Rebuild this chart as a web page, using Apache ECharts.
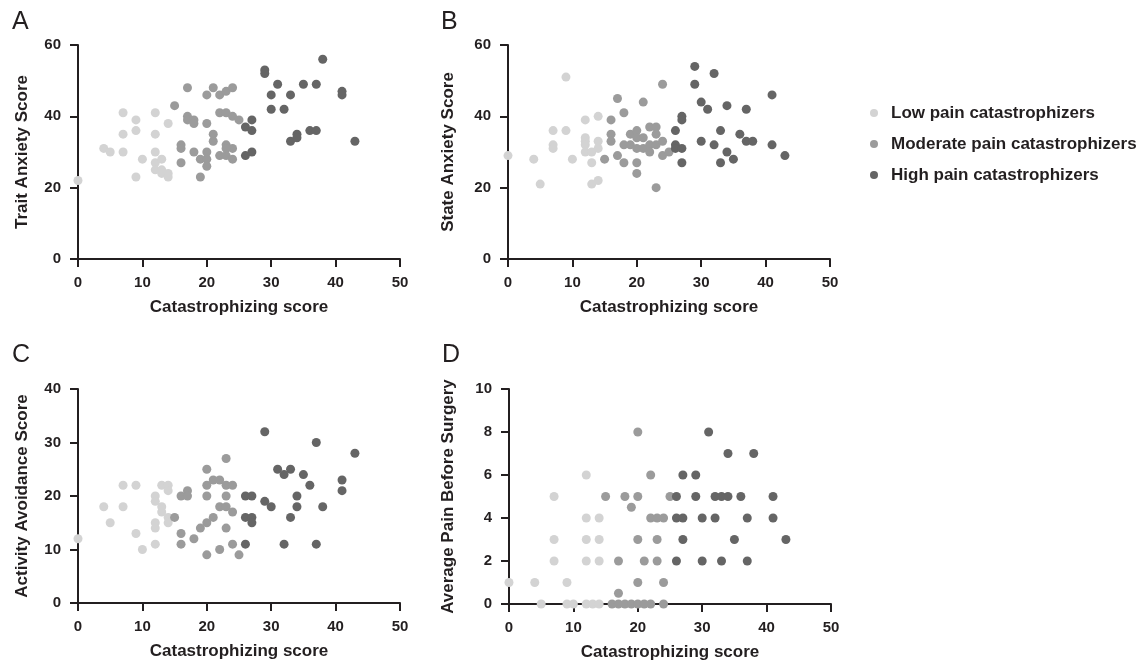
<!DOCTYPE html>
<html>
<head>
<meta charset="utf-8">
<script src="https://cdn.jsdelivr.net/npm/echarts@6/dist/echarts.min.js"></script>
<style>
html,body{margin:0;padding:0;background:#fff;}
#chart{width:1148px;height:663px;}
</style>
</head>
<body>
<div id="chart"></div>
<script>
// ---- Data ----
const groupNames = ['Low pain catastrophizers', 'Moderate pain catastrophizers', 'High pain catastrophizers'];
const xTicks = [0, 10, 20, 30, 40, 50];
const panelLetters = ['A', 'B', 'C', 'D'];
const yTitles = ['Trait Anxiety Score', 'State Anxiety Score', 'Activity Avoidance Score', 'Average Pain Before Surgery'];
const xTitle = 'Catastrophizing score';
const yMax = [60, 60, 40, 10];
const yStep = [20, 20, 10, 2];

// Panel A: Trait Anxiety
const traitLow = [[0,22],[4,31],[5,30],[7,41],[7,35],[7,30],[9,39],[9,36],[9,23],[10,28],[12,41],[12,35],[12,30],[12,27],[12,25],[13,28],[13,25],[13,24],[14,38],[14,24],[14,23]];
const traitMod = [[15,43],[17,48],[17,40],[17,39],[18,39],[18,38],[20,38],[21,48],[20,46],[22,46],[23,47],[24,48],[22,41],[23,41],[24,40],[25,39],[21,35],[21,33],[16,32],[16,31],[16,27],[18,30],[19,28],[20,30],[20,28],[20,26],[19,23],[22,29],[23,32],[23,29],[24,28],[24,31],[23,31]];
const traitHigh = [[26,37],[27,39],[27,36],[26,29],[27,30],[29,53],[29,52],[30,46],[30,42],[31,49],[32,42],[33,46],[33,33],[34,35],[34,34],[35,49],[36,36],[37,49],[37,36],[38,56],[41,47],[41,46],[43,33]];

// Panel B: State Anxiety
const stateLow = [[0,29],[4,28],[5,21],[7,36],[7,32],[7,31],[9,51],[9,36],[10,28],[12,39],[12,34],[12,33],[12,32],[12,30],[13,30],[13,27],[13,21],[14,40],[14,33],[14,31],[14,22]];
const stateMod = [[15,28],[16,39],[16,35],[16,33],[17,45],[17,29],[18,41],[18,32],[18,27],[19,35],[19,32],[20,36],[20,34],[20,31],[20,27],[20,24],[21,44],[21,34],[21,31],[22,37],[22,32],[22,30],[23,37],[23,35],[23,32],[23,20],[24,49],[24,33],[24,29],[25,30]];
const stateHigh = [[26,36],[26,32],[26,31],[27,40],[27,39],[27,31],[27,27],[29,54],[29,49],[30,44],[30,33],[31,42],[32,52],[32,32],[33,36],[33,27],[34,43],[34,30],[35,28],[36,35],[37,42],[37,33],[38,33],[41,46],[41,32],[43,29]];

// Panel C: Activity Avoidance
const avoidLow = [[0,12],[4,18],[5,15],[7,22],[7,18],[9,22],[9,13],[10,10],[12,20],[12,19],[12,15],[12,14],[12,11],[13,22],[13,18],[13,17],[14,22],[14,21],[14,16],[14,15]];
const avoidMod = [[15,16],[16,20],[16,13],[16,11],[17,21],[17,20],[18,12],[19,14],[20,25],[20,22],[20,20],[20,15],[20,9],[21,23],[21,16],[22,23],[22,18],[22,10],[23,27],[23,22],[23,20],[23,18],[23,14],[24,22],[24,17],[24,11],[25,9]];
const avoidHigh = [[26,20],[26,16],[26,11],[27,20],[27,16],[27,15],[29,32],[29,19],[30,18],[31,25],[32,24],[32,11],[33,25],[33,16],[34,20],[34,18],[35,24],[36,22],[37,30],[37,11],[38,18],[41,23],[41,21],[43,28]];

// Panel D: Average Pain Before Surgery
const painLow = [[0,1],[4,1],[5,0],[7,5],[7,3],[7,2],[9,1],[9,0],[10,0],[12,6],[12,4],[12,3],[12,2],[12,0],[13,0],[14,4],[14,3],[14,2],[14,0]];
const painMod = [[15,5],[16,0],[17,2],[17,0.5],[17,0],[18,5],[18,0],[19,4.5],[19,0],[20,8],[20,5],[20,3],[20,1],[20,0],[21,2],[21,0],[22,6],[22,4],[22,0],[23,4],[23,3],[23,2],[24,4],[24,1],[24,0],[25,5]];
const painHigh = [[26,5],[26,4],[26,2],[27,6],[27,4],[27,3],[29,6],[29,5],[30,4],[30,2],[31,8],[32,5],[32,4],[33,5],[33,2],[34,7],[34,5],[35,3],[36,5],[37,4],[37,2],[38,7],[41,5],[41,4],[43,3]];

const panels = [
  [traitLow, traitMod, traitHigh],
  [stateLow, stateMod, stateHigh],
  [avoidLow, avoidMod, avoidHigh],
  [painLow, painMod, painHigh]
];

// ---- Styles / layout ----
const colors = ['#d3d3d3', '#9b9b9b', '#656565'];
const font = "'Liberation Sans', Arial, Helvetica, sans-serif";
const ink = '#231f20';
const grids = [
  {left: 78, top: 45, width: 322, height: 214},
  {left: 508, top: 45, width: 322, height: 214},
  {left: 78, top: 389, width: 322, height: 214},
  {left: 509, top: 389, width: 322, height: 215}
];
const yNameGaps = [47, 51, 47, 52];
const letterPos = [[12, 10], [441, 10], [12, 343], [442, 343]];

const chart = echarts.init(document.getElementById('chart'), null, {renderer: 'canvas'});

const axisCommon = {
  axisLine: {show: true, onZero: false, lineStyle: {color: ink, width: 2}},
  axisTick: {show: true, inside: false, length: 8, lineStyle: {color: ink, width: 2}},
  splitLine: {show: false},
  axisLabel: {color: ink, fontFamily: font, fontWeight: 'bold', fontSize: 15},
  nameTextStyle: {color: ink, fontFamily: font, fontWeight: 'bold', fontSize: 17},
  nameLocation: 'middle'
};

const xAxes = grids.map((g, i) => Object.assign({}, axisCommon, {
  type: 'value', gridIndex: i, min: 0, max: 50, interval: 10,
  name: xTitle, nameGap: 40,
  axisLabel: Object.assign({}, axisCommon.axisLabel, {margin: 16, formatter: v => xTicks.includes(v) ? String(v) : ''})
}));
const yAxes = grids.map((g, i) => Object.assign({}, axisCommon, {
  type: 'value', gridIndex: i, min: 0, max: yMax[i], interval: yStep[i],
  name: yTitles[i], nameGap: yNameGaps[i],
  axisLabel: Object.assign({}, axisCommon.axisLabel, {margin: 17})
}));

const series = [];
panels.forEach((groups, p) => {
  groups.forEach((data, g) => {
    series.push({
      type: 'scatter', name: groupNames[g], xAxisIndex: p, yAxisIndex: p,
      data: data, symbol: 'circle', symbolSize: 9,
      itemStyle: {color: colors[g], opacity: 1},
      emphasis: {disabled: true}, z: 2 + g
    });
  });
});

const option = {
  animation: false,
  backgroundColor: '#ffffff',
  textStyle: {fontFamily: font},
  grid: grids.map(g => Object.assign({containLabel: false}, g)),
  xAxis: xAxes,
  yAxis: yAxes,
  legend: {
    data: groupNames, orient: 'vertical', left: 865, top: 98,
    icon: 'circle', itemWidth: 24, itemHeight: 8, itemGap: 11,
    selectedMode: false,
    textStyle: {color: ink, fontFamily: font, fontWeight: 'bold', fontSize: 17, lineHeight: 20}
  },
  graphic: panelLetters.map((t, i) => ({
    type: 'text', left: letterPos[i][0], top: letterPos[i][1],
    style: {text: t, fill: ink, font: "25px 'Liberation Sans', Arial, sans-serif"}
  })),
  series: series
};
chart.setOption(option);
</script>
</body>
</html>
